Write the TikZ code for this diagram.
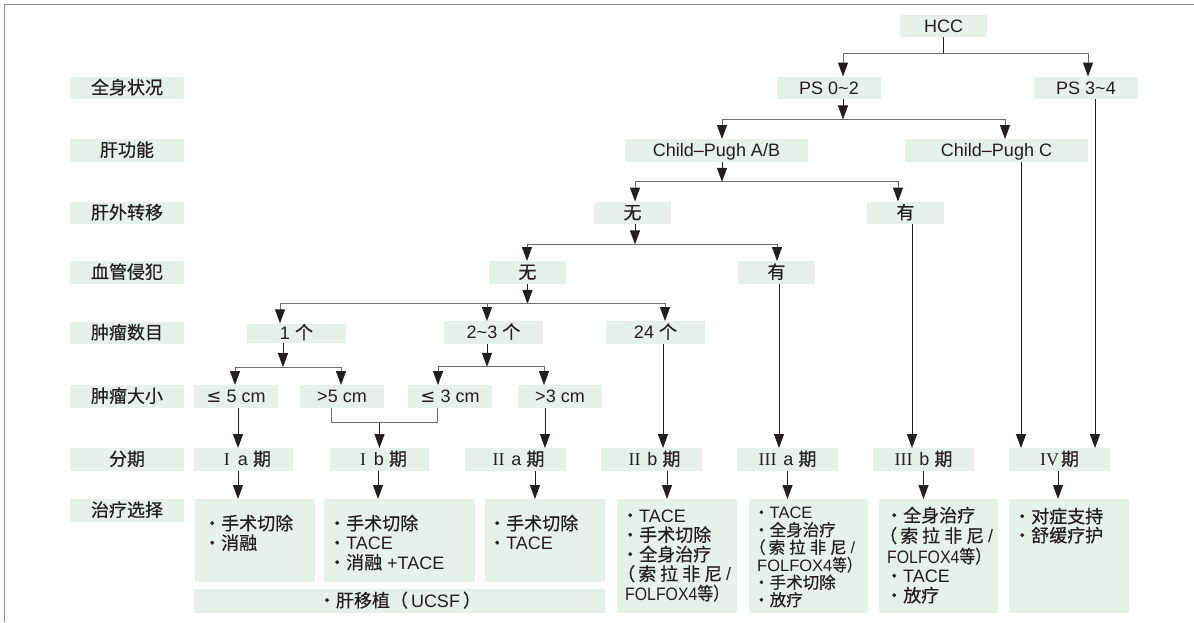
\documentclass[tikz,border=0pt]{standalone}
\usepackage{fontspec}
\setmainfont{Liberation Sans}
\newfontfamily\cjk[FakeBold=0.5]{Noto Sans CJK SC}
\newfontfamily\condlat[FakeStretch=0.88]{Liberation Sans}
\newfontfamily\condcjk[FakeStretch=0.88,FakeBold=0.5]{Noto Sans CJK SC}
\newfontfamily\dvs{DejaVu Sans}
\newfontfamily\rmn{Liberation Serif}
\usetikzlibrary{arrows.meta,calc}
\newcommand\zh[1]{{\cjk #1}}
\definecolor{boxfill}{RGB}{230,241,234}
\definecolor{busgray}{RGB}{110,110,110}
\definecolor{ink}{RGB}{35,31,32}
\definecolor{framegray}{RGB}{140,140,140}
\newcommand\parenline{\zh{（}\hspace{3pt}\zh{索}\hspace{4pt}\zh{拉}\hspace{4pt}\zh{非}\hspace{4pt}\zh{尼}\hspace{4pt}/}
\newcommand\folfox{{\condlat FOLFOX4}{\condcjk 等）}}
\newcommand\folfoxb{FOLFOX4{\condcjk 等）}}
\begin{document}
\begin{tikzpicture}[x=1pt,y=-1pt,
 every node/.style={inner sep=0pt, font=\fontsize{18}{20}\selectfont, text=ink},
 lbl/.style={fill=boxfill, minimum height=22.5pt, text height=14.5pt, text depth=2.5pt},
 tbox/.style={fill=boxfill, anchor=north west},
 tt/.style={anchor=base west},
 tts/.style={anchor=base west, font=\fontsize{16.5}{17}\selectfont},
 stem/.style={draw=ink, line width=1pt},
 bus/.style={draw=busgray, line width=1pt},
 arr/.style={-{Triangle[length=14pt,width=10pt,color=ink]}}]
\useasboundingbox (0,0) rectangle (1194,622);
\draw[framegray, line width=1.3pt] (4.5,622) -- (4.5,4.5) -- (1194,4.5);

% row labels
\node[lbl,minimum width=114pt] (r1) at (127,88) {\zh{全身状况}\hspace{6pt}};
\node[lbl,minimum width=114pt] (r2) at (127,150.5) {\zh{肝功能}\hspace{6pt}};
\node[lbl,minimum width=114pt] (r3) at (127,213) {\zh{肝外转移}\hspace{6pt}};
\node[lbl,minimum width=114pt] (r4) at (127,272.5) {\zh{血管侵犯}\hspace{6pt}};
\node[lbl,minimum width=114pt] (r5) at (127,333) {\zh{肿瘤数目}\hspace{6pt}};
\node[lbl,minimum width=114pt] (r6) at (127,396.5) {\zh{肿瘤大小}\hspace{6pt}};
\node[lbl,minimum width=114pt] (r7) at (127,459.5) {\zh{分期}\hspace{6pt}};
\node[lbl,minimum width=114pt] (r8) at (127,510.5) {\zh{治疗选择}\hspace{6pt}};

% tree nodes
\node[lbl,minimum width=87pt] (hcc) at (943.5,26) {HCC};
\node[lbl,minimum width=104pt] (ps02) at (829,88) {PS 0\textasciitilde2};
\node[lbl,minimum width=104pt] (ps34) at (1086,88) {PS 3\textasciitilde4};
\node[lbl,minimum width=183pt] (cpab) at (716.5,150.5) {Child\textendash Pugh A/B};
\node[lbl,minimum width=183pt] (cpc) at (996.5,150.5) {Child\textendash Pugh C};
\node[lbl,minimum width=77pt] (ew) at (632.5,213) {\zh{无}};
\node[lbl,minimum width=77pt] (ey) at (905.5,213) {\zh{有}};
\node[lbl,minimum width=77pt] (vw) at (527.5,272.5) {\zh{无}};
\node[lbl,minimum width=77pt] (vy) at (776.5,272.5) {\zh{有}};
\node[lbl,minimum width=99pt,minimum height=19pt] (n1) at (296.5,333) {1 \zh{个}};
\node[lbl,minimum width=99pt] (n23) at (493.5,332.5) {2\textasciitilde3 \zh{个}};
\node[lbl,minimum width=99pt] (n4) at (655.5,332.5) {24 \zh{个}};
\node[lbl,minimum width=84pt] (s1) at (236,396.5) {{\dvs ≤} 5 cm};
\node[lbl,minimum width=84pt] (s2) at (342,396.5) {>5 cm};
\node[lbl,minimum width=84pt] (s3) at (450,396.5) {{\dvs ≤} 3 cm};
\node[lbl,minimum width=84pt] (s4) at (560,396.5) {>3 cm};
\node[lbl,minimum width=99pt] (st1) at (243.5,459.5) {\hspace{8pt}{\rmn I}\hspace{8pt}a \zh{期}};
\node[lbl,minimum width=99pt] (st2) at (379.5,459.5) {\hspace{8pt}{\rmn I}\hspace{8pt}b \zh{期}};
\node[lbl,minimum width=101pt] (st3) at (515.5,459.5) {\hspace{6pt}{\rmn II}\hspace{7pt}a \zh{期}};
\node[lbl,minimum width=101pt] (st4) at (651.5,459.5) {\hspace{6pt}{\rmn II}\hspace{7pt}b \zh{期}};
\node[lbl,minimum width=101pt] (st5) at (787.5,459.5) {{\rmn III}\hspace{7pt}a \zh{期}};
\node[lbl,minimum width=101pt] (st6) at (923.5,459.5) {{\rmn III}\hspace{7pt}b \zh{期}};
\node[lbl,minimum width=101pt] (st7) at (1059.5,459.5) {{\rmn IV}\hspace{2pt}\zh{期}};

% treatment boxes
\node[tbox,minimum width=120pt,minimum height=83pt] (t1) at (195,499) {};
\node[tbox,minimum width=151pt,minimum height=83pt] (t2) at (324,499) {};
\node[tbox,minimum width=120pt,minimum height=83pt] (t3) at (485,499) {};
\node[lbl,minimum width=411pt,minimum height=24pt] (tlt) at (399.5,601) {\zh{・肝移植（}\hspace{3pt}UCSF\hspace{3pt}\zh{）}\hspace{20pt}};
\node[tbox,minimum width=120pt,minimum height=114pt] (t4) at (617,499) {};
\node[tbox,minimum width=119pt,minimum height=114pt] (t5) at (749,499) {};
\node[tbox,minimum width=119pt,minimum height=114pt] (t6) at (879,499) {};
\node[tbox,minimum width=120pt,minimum height=114pt] (t7) at (1009,499) {};

\node[tt] (t1a) at (203,530) {\zh{・手术切除}};
\node[tt] (t1b) at (203,549.5) {\zh{・消融}};
\node[tt] (t2a) at (328,530) {\zh{・手术切除}};
\node[tt] (t2b) at (328,549.5) {\zh{・}TACE};
\node[tt] (t2c) at (328,569) {\zh{・消融} +TACE};
\node[tt] (t3a) at (488,530) {\zh{・手术切除}};
\node[tt] (t3b) at (488,549.5) {\zh{・}TACE};

\node[tt] (t4a) at (621,522) {\zh{・}TACE};
\node[tt] (t4b) at (621,541.5) {\zh{・手术切除}};
\node[tt] (t4c) at (621,561) {\zh{・全身治疗}};
\node[tt] (t4d) at (617,580.5) {\parenline};
\node[tt] (t4e) at (625,600) {\folfox};

\node[tts] (t5a) at (753,518.5) {\zh{・}TACE};
\node[tts] (t5b) at (753,536) {\zh{・全身治疗}};
\node[tts] (t5c) at (749,553.5) {\parenline};
\node[tts] (t5d) at (757,571) {\folfoxb};
\node[tts] (t5e) at (753,588.5) {\zh{・手术切除}};
\node[tts] (t5f) at (753,606) {\zh{・放疗}};

\node[tt] (t6a) at (885,522) {\zh{・全身治疗}};
\node[tt] (t6b) at (879,542.5) {\parenline};
\node[tt] (t6c) at (887,563) {\folfox};
\node[tt] (t6d) at (885,582.5) {\zh{・}TACE};
\node[tt] (t6e) at (885,602) {\zh{・放疗}};

\node[tt] (t7a) at (1013,523) {\zh{・对症支持}};
\node[tt] (t7b) at (1013,542) {\zh{・舒缓疗护}};

% connectors
\draw[stem] (hcc.south) -- ++(0,16) coordinate (j0);
\draw[bus,arr] (j0) -| ([xshift=14pt]ps02.north);
\draw[bus,arr] (j0) -| ([xshift=2pt]ps34.north);

\draw[stem,arr] ([xshift=14pt]ps02.south) -- ++(0,20) coordinate (j1);
\draw[bus,arr] (j1) -| ([xshift=5.5pt]cpab.north);
\draw[bus,arr] (j1) -| ([xshift=8.5pt]cpc.north);

\draw[stem,arr] ([xshift=5.5pt]cpab.south) -- ++(0,20) coordinate (j2);
\draw[bus,arr] (j2) -| ([xshift=2.5pt]ew.north);
\draw[bus,arr] (j2) -| ([xshift=-7.5pt]ey.north);

\draw[stem,arr] ([xshift=2.5pt]ew.south) -- ++(0,20) coordinate (j3);
\draw[bus,arr] (j3) -| ([xshift=-0.5pt]vw.north);
\draw[bus,arr] (j3) -| ([xshift=0.5pt]vy.north);

\draw[stem,arr] (vw.south) -- ++(0,20) coordinate (j4);
\draw[bus,arr] (j4) -| ([xshift=-16.5pt]n1.north);
\draw[bus,arr] (j4) -| ([xshift=-6.5pt]n23.north);
\draw[bus,arr] (j4) -| ([xshift=9.5pt]n4.north);

\draw[stem,arr] ([xshift=-13.5pt]n1.south) -- ++(0,24.5) coordinate (j5);
\draw[bus,arr] (j5) -| ([xshift=-1pt]s1.north);
\draw[bus,arr] (j5) -| ([xshift=-1pt]s2.north);

\draw[stem,arr] ([xshift=-6.5pt]n23.south) -- ++(0,23) coordinate (j6);
\draw[bus,arr] (j6) -| ([xshift=-12pt]s3.north);
\draw[bus,arr] (j6) -| ([xshift=-16pt]s4.north);

\coordinate (a1) at ([xshift=2pt]s1.south);
\draw[stem,arr] (a1) -- (a1 |- st1.north);
\draw[bus] ([xshift=-11pt]s2.south) -- ++(0,15) coordinate (jb) -| ([xshift=-13pt]s3.south);
\draw[stem,arr] (jb -| st2.north) -- (st2.north);
\coordinate (a4) at ([xshift=-15pt]s4.south);
\draw[stem,arr] (a4) -- (a4 |- st3.north);

\coordinate (a5) at ([xshift=7.5pt]n4.south);
\draw[stem,arr] (a5) -- (a5 |- st4.north);
\coordinate (a6) at ([xshift=2.5pt]vy.south);
\draw[stem,arr] (a6) -- (a6 |- st5.north);
\coordinate (a7) at ([xshift=6.5pt]ey.south);
\draw[stem,arr] (a7) -- (a7 |- st6.north);
\coordinate (a8) at ([xshift=24.5pt]cpc.south);
\draw[stem,arr] (a8) -- (a8 |- st7.north);
\coordinate (a9) at ([xshift=9pt]ps34.south);
\draw[stem,arr] (a9) -- (a9 |- st7.north);

\coordinate (b1) at ([xshift=-5.5pt]st1.south);
\draw[stem,arr] (b1) -- (b1 |- t1.north);
\coordinate (b2) at ([xshift=-1.5pt]st2.south);
\draw[stem,arr] (b2) -- (b2 |- t2.north);
\coordinate (b3) at ([xshift=19.5pt]st3.south);
\draw[stem,arr] (b3) -- (b3 |- t3.north);
\coordinate (b4) at ([xshift=15.5pt]st4.south);
\draw[stem,arr] (b4) -- (b4 |- t4.north);
\coordinate (b5) at (st5.south);
\draw[stem,arr] (b5) -- (b5 |- t5.north);
\coordinate (b6) at (st6.south);
\draw[stem,arr] (b6) -- (b6 |- t6.north);
\coordinate (b7) at ([xshift=-1.5pt]st7.south);
\draw[stem,arr] (b7) -- (b7 |- t7.north);
\end{tikzpicture}
\end{document}
